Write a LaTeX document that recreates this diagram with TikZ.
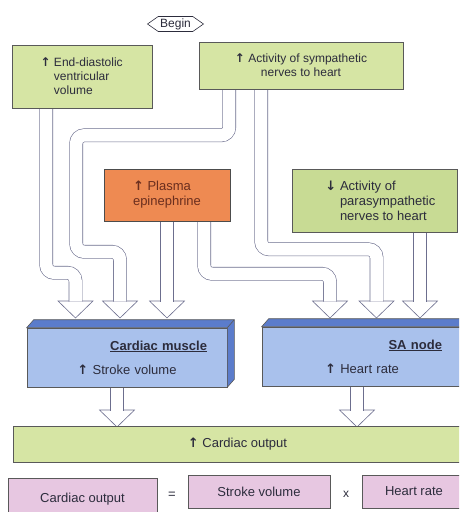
\documentclass[tikz,border=0pt]{standalone}
\usepackage{fontspec}
\setmainfont{Liberation Sans}
\newfontfamily\arrowfont{DejaVu Sans}
\usetikzlibrary{shapes.symbols,backgrounds}

\definecolor{leafgreen}{HTML}{D6E5A4}
\definecolor{paragreen}{HTML}{C8DB94}
\definecolor{epiorange}{HTML}{EE8A52}
\definecolor{epiink}{HTML}{6A2E1E}
\definecolor{heartblue}{HTML}{A9C1EC}
\definecolor{deepblue}{HTML}{5B7CCB}
\definecolor{formpink}{HTML}{E7C7E1}
\definecolor{wire}{HTML}{6C6E8E}
\definecolor{ink}{HTML}{2C2C3C}

\newcommand\riseup{{\arrowfont\bfseries ↑}}
\newcommand\falldown{{\arrowfont\bfseries ↓}}

\tikzset{
  box/.style={draw=black!65, line width=0.6pt, inner sep=4pt, text=ink},
  face/.style={draw=black!65, line width=0.6pt, fill=deepblue},
  band/.style={draw=wire, line width=0.6pt, double=white, double distance=12.5pt, rounded corners=8pt},
  head/.pic={\draw[wire, fill=white, line width=0.6pt] (-17.5,0) -- (0,17) -- (17.5,0) -- cycle;},
}

\begin{document}
\begin{tikzpicture}[x=1pt,y=-1pt]
    \useasboundingbox (0,0) rectangle (459,512);
    \clip (0,0) rectangle (459,512);

    % top row
    \node[draw=ink, line width=0.6pt, fill=white, text=ink, signal, signal to=west and east, signal pointer angle=70,
      minimum width=56pt, minimum height=15pt, inner sep=1pt, font=\fontsize{12}{13}\selectfont] (begin) at (175.5,24) {Begin};
    \node[box, fill=leafgreen, minimum width=140pt, minimum height=63pt,
      font=\fontsize{12}{14}\selectfont] (edv) at (82,76.5)
      {\hspace*{38pt}\parbox{94pt}{\raggedright\noindent\llap{\riseup\ }End-diastolic\\ventricular\\volume}};
    \node[box, fill=leafgreen, minimum width=204pt, minimum height=47pt, align=center,
      font=\fontsize{12}{14}\selectfont] (symp) at (301,65.5) {\riseup\ Activity of sympathetic\\nerves to heart};

    % middle row
    \node[box, draw=black!70, fill=epiorange, text=epiink, minimum width=126pt, minimum height=52pt, align=left,
      font=\fontsize{13}{15}\selectfont] (plasma) at (167,195) {\riseup\ Plasma\\epinephrine};
    \node[box, fill=paragreen, minimum width=165pt, minimum height=63pt,
      font=\fontsize{13}{15}\selectfont] (para) at (374.5,200.5)
      {\hspace*{44pt}\parbox{113pt}{\raggedright\noindent\llap{\falldown\ }Activity of\\parasympathetic\\nerves to heart}};

    % effectors
    \node[box, fill=heartblue, minimum width=200pt, minimum height=59pt, text width=160pt, align=center,
      font=\fontsize{13}{15}\selectfont] (muscle) at (127,357.5)
      {\hspace*{\fill}\underline{\textbf{Cardiac muscle}}\\[9pt]\riseup\ Stroke volume};
    \node[box, fill=heartblue, minimum width=200pt, minimum height=59pt, text width=160pt, align=center,
      font=\fontsize{13}{15}\selectfont] (sanode) at (362,356.5)
      {\hspace*{\fill}\underline{\textbf{SA node}}\\[9pt]\riseup\ Heart rate};
    \foreach \b in {muscle,sanode}{
      \fill[face] (\b.north west) -- ++(7,-8) -- ([shift={(7,-8)}]\b.north east)
        -- ([shift={(7,-8)}]\b.south east) -- (\b.south east) -- (\b.north east) -- cycle;
      \draw[face] (\b.north east) -- ++(7,-8);
    }

    % result
    \node[box, fill=leafgreen, minimum width=449pt, minimum height=36pt,
      font=\fontsize{13}{15}\selectfont] (output) at (237.5,444) {\riseup\ Cardiac output};
    \node[box, fill=formpink, minimum width=149pt, minimum height=42pt,
      font=\fontsize{13}{15}\selectfont] (co) at (82.5,499) {Cardiac output};
    \node[text=ink, font=\fontsize{13}{15}\selectfont] (eq) at (172,495) {=};
    \node[box, fill=formpink, minimum width=142pt, minimum height=33pt,
      font=\fontsize{13}{15}\selectfont] (sv) at (259,491.5) {Stroke volume};
    \node[text=ink, font=\fontsize{12}{14}\selectfont] (times) at (346,494) {x};
    \node[box, fill=formpink, minimum width=104pt, minimum height=33pt,
      font=\fontsize{13}{15}\selectfont] (hr) at (414,491.5) {Heart rate};

    % open arrows
    \coordinate (h1) at (75.5,301);
    \coordinate (h2) at (120,301);
    \coordinate (h3) at (167,301);
    \coordinate (h4) at (330,301);
    \coordinate (h5) at (376.5,301);
    \coordinate (h6) at (420,301);
    \coordinate (h7) at (117,410);
    \coordinate (h8) at (357,410);
    \begin{scope}[on background layer]
      \foreach \h in {h1,h2,h3,h4,h5,h6,h7,h8}
        \pic at (\h) {head};
      \draw[band] ([xshift=34.5pt]edv.south west) -- ++(0,164.5) -| ([yshift=-.5pt]h1);
      \draw[band] ([xshift=30.5pt]symp.south west) -- ++(0,46) -- ++(-153,0) -- ++(0,116.5) -| ([yshift=-.5pt]h2);
      \draw[band] (h3 |- plasma.south) -- ([yshift=-.5pt]h3);
      \draw[band] ([xshift=100.5pt]plasma.south west) -- ++(0,52.5) -| ([yshift=-.5pt]h4);
      \draw[band] ([xshift=62.5pt]symp.south west) -- ++(0,160) -| ([yshift=-.5pt]h5);
      \draw[band] (h6 |- para.south) -- ([yshift=-.5pt]h6);
      \draw[band] (h7 |- muscle.south) -- ([yshift=-.5pt]h7);
      \draw[band] (h8 |- sanode.south) -- ([yshift=-.5pt]h8);
    \end{scope}
\end{tikzpicture}
\end{document}
